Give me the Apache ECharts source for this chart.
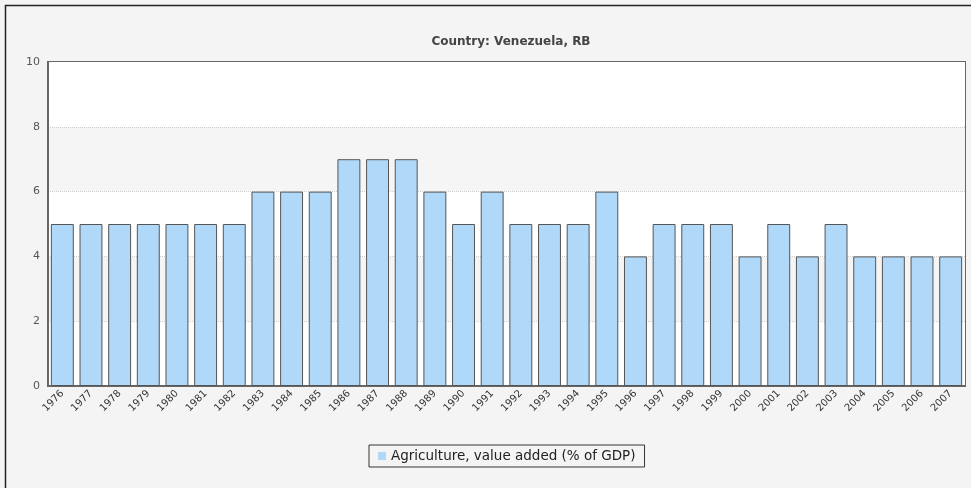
<!DOCTYPE html>
<html><head><meta charset="utf-8">
<script src="https://cdn.jsdelivr.net/npm/echarts@6/dist/echarts.min.js"></script>
<style>html,body{margin:0;padding:0;background:#f4f4f4;}#c{width:971px;height:488px;}</style>
</head><body><div id="c"></div>
<script>
const years = ['1976','1977','1978','1979','1980','1981','1982','1983','1984','1985','1986','1987','1988','1989','1990','1991','1992','1993','1994','1995','1996','1997','1998','1999','2000','2001','2002','2003','2004','2005','2006','2007'];
const agriValues = [5,5,5,5,5,5,5,6,6,6,7,7,7,6,5,6,5,5,5,6,4,5,5,5,4,5,4,5,4,4,4,4];
const seriesName = 'Agriculture, value added (% of GDP)';
const titleText = 'Country: Venezuela, RB';

const chart = echarts.init(document.getElementById('c'));
chart.setOption({
  backgroundColor: '#f4f4f4',
  animation: false,
  graphic: [{type:'rect', silent:true, z:-1, shape:{x:5.5,y:5.5,width:980,height:500}, style:{fill:'none', stroke:'#222', lineWidth:1.5}}],
  title: {text: titleText, left: 506, textAlign:'center', top: 31, textStyle:{fontFamily:'DejaVu Sans', fontSize:12, fontWeight:'bold', color:'#444'}},
  legend: {bottom: 21, left: 369, data:[seriesName], itemWidth:8, itemHeight:8, icon:'rect', itemGap:6, borderColor:'#333', borderWidth:1, borderRadius:0, padding:[4,9,4,9], backgroundColor:'#f4f4f4', textStyle:{fontFamily:'DejaVu Sans', fontSize:13.5, color:'#222'}, itemStyle:{borderWidth:0}},
  grid: {left:48, right:6, top:62, bottom:102, show:true, backgroundColor:'#fff', borderColor:'#666', borderWidth:2},
  xAxis: {type:'category', data: years, axisTick:{show:false}, axisLine:{lineStyle:{color:'#666', width:2}}, axisLabel:{rotate:45, interval:0, fontFamily:'DejaVu Sans', fontSize:10, color:'#333', margin:6}},
  yAxis: {type:'value', min:0, max:10, interval:2, axisLine:{show:true, lineStyle:{color:'#666', width:2}}, axisTick:{show:false}, axisLabel:{fontFamily:'DejaVu Sans', fontSize:11, color:'#555', margin:8},
    splitLine:{show:true, showMaxLine:false, showMinLine:false, lineStyle:{color:'#d0d0d0', type:'dotted'}}, splitArea:{show:true, areaStyle:{color:['#ffffff','#f5f5f5']}}},
  series: [{name: seriesName, type:'bar', data: agriValues, barCategoryGap:'20%', itemStyle:{color:'#b0d8f8', borderColor:'#555', borderWidth:1}}]
});
</script></body></html>
